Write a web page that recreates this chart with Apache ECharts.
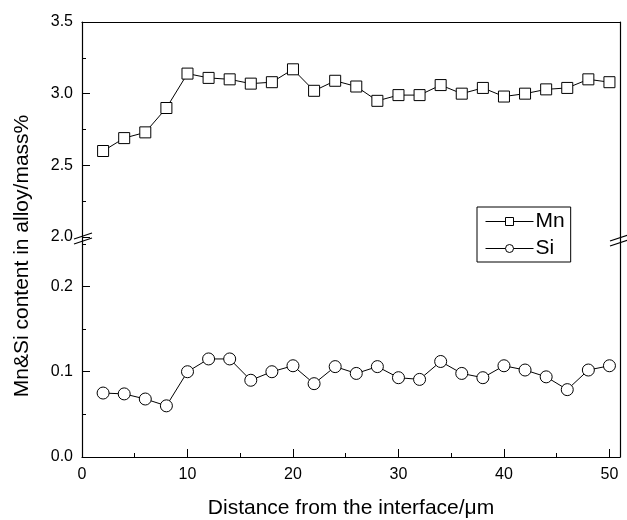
<!DOCTYPE html>
<html>
<head>
<meta charset="utf-8">
<script src="https://cdn.jsdelivr.net/npm/echarts@6/dist/echarts.min.js"></script>
<style>
  html, body { margin: 0; padding: 0; background: #fff; }
  #chart { width: 627px; height: 520px; }
</style>
</head>
<body>
<div id="chart"></div>
<script>
// distance from the interface (um)
const distance = [2, 4, 6, 8, 10, 12, 14, 16, 18, 20, 22, 24, 26, 28, 30, 32, 34, 36, 38, 40, 42, 44, 46, 48, 50];
const mnValues = [2.60, 2.69, 2.73, 2.90, 3.14, 3.11, 3.10, 3.07, 3.08, 3.17, 3.02, 3.09, 3.05, 2.95, 2.99, 2.99, 3.06, 3.00, 3.04, 2.98, 3.00, 3.03, 3.04, 3.10, 3.08];
const siValues = [0.075, 0.074, 0.068, 0.060, 0.100, 0.115, 0.115, 0.090, 0.100, 0.107, 0.086, 0.106, 0.098, 0.106, 0.093, 0.091, 0.112, 0.098, 0.093, 0.107, 0.102, 0.094, 0.079, 0.102, 0.107];

const FONT = "'Liberation Sans', Arial, sans-serif";
const chart = echarts.init(document.getElementById("chart"));

const lineOnly = {
  axisLine: { show: true, lineStyle: { color: "#000", width: 1.2 } },
  axisTick: { show: false },
  axisLabel: { show: false },
  splitLine: { show: false },
};
const tickStyle = {
  axisLine: { show: true, lineStyle: { color: "#000", width: 1.2 } },
  axisTick: { show: true, inside: true, length: 8, lineStyle: { color: "#000" } },
  minorTick: { show: true, splitNumber: 2, length: 4, lineStyle: { color: "#000" } },
  splitLine: { show: false },
  axisLabel: {
    color: "#000",
    fontSize: 16,
    fontFamily: FONT,
    margin: 9,
  },
};

function breakMark(x, y) {
  return [
    { type: "line", shape: { x1: x - 9, y1: y + 1, x2: x + 9, y2: y - 5 }, style: { stroke: "#000", lineWidth: 1.3 } },
    { type: "line", shape: { x1: x - 9, y1: y + 6, x2: x + 9, y2: y }, style: { stroke: "#000", lineWidth: 1.3 } },
  ];
}

const option = {
  backgroundColor: "#fff",
  animation: false,
  grid: [
    { left: 82, right: 7, top: 22, height: 215 },
    { left: 82, right: 7, top: 237, height: 222 },
  ],
  xAxis: [
    Object.assign({ type: "value", gridIndex: 0, position: "top", min: 0, max: 51 }, lineOnly),
    Object.assign({}, tickStyle, {
      type: "value",
      gridIndex: 1,
      min: 0,
      max: 51,
      interval: 10,
      axisLabel: Object.assign({}, tickStyle.axisLabel, { margin: 10, showMaxLabel: false }),
      name: "Distance from the interface/\u03bcm",
      nameLocation: "middle",
      nameGap: 41,
      nameTextStyle: { color: "#000", fontSize: 21, fontFamily: FONT },
    }),
  ],
  yAxis: [
    Object.assign({}, tickStyle, {
      type: "value",
      gridIndex: 0,
      min: 2.0,
      max: 3.5,
      interval: 0.5,
      axisLabel: Object.assign({}, tickStyle.axisLabel, { formatter: (v) => v.toFixed(1) }),
    }),
    Object.assign({ type: "value", gridIndex: 0, position: "right", min: 2.0, max: 3.5 }, lineOnly),
    Object.assign({}, tickStyle, {
      type: "value",
      gridIndex: 1,
      min: 0,
      max: 0.258,
      interval: 0.1,
      axisLabel: Object.assign({}, tickStyle.axisLabel, { showMaxLabel: false, formatter: (v) => v.toFixed(1) }),
    }),
    Object.assign({ type: "value", gridIndex: 1, position: "right", min: 0, max: 0.258 }, lineOnly),
  ],
  legend: {
    orient: "vertical",
    left: 477,
    top: 207,
    itemWidth: 48,
    itemHeight: 10,
    itemGap: 6,
    padding: [4, 6, 3, 8],
    borderColor: "#000",
    borderWidth: 1,
    lineStyle: { width: 1 },
    itemStyle: { borderWidth: 1 },
    textStyle: { color: "#000", fontSize: 21, fontFamily: FONT, padding: [0, 0, 0, -3] },
    data: ["Mn", "Si"],
  },
  graphic: [
    {
      type: "text",
      x: 22,
      y: 256,
      rotation: Math.PI / 2,
      style: {
        text: "Mn&Si content in alloy/mass%",
        fill: "#000",
        font: "21px " + FONT,
        textAlign: "center",
        textVerticalAlign: "middle",
      },
    },
  ].concat(breakMark(83, 238), breakMark(619, 240)),
  series: [
    {
      name: "Mn",
      type: "line",
      xAxisIndex: 0,
      yAxisIndex: 0,
      data: distance.map((d, i) => [d, mnValues[i]]),
      symbol: "rect",
      symbolSize: 11,
      lineStyle: { color: "#000", width: 1 },
      itemStyle: { color: "#fff", borderColor: "#000", borderWidth: 1 },
    },
    {
      name: "Si",
      type: "line",
      xAxisIndex: 1,
      yAxisIndex: 2,
      data: distance.map((d, i) => [d, siValues[i]]),
      symbol: "circle",
      symbolSize: 12,
      lineStyle: { color: "#000", width: 1 },
      itemStyle: { color: "#fff", borderColor: "#000", borderWidth: 1 },
    },
  ],
};

chart.setOption(option);
</script>
</body>
</html>
